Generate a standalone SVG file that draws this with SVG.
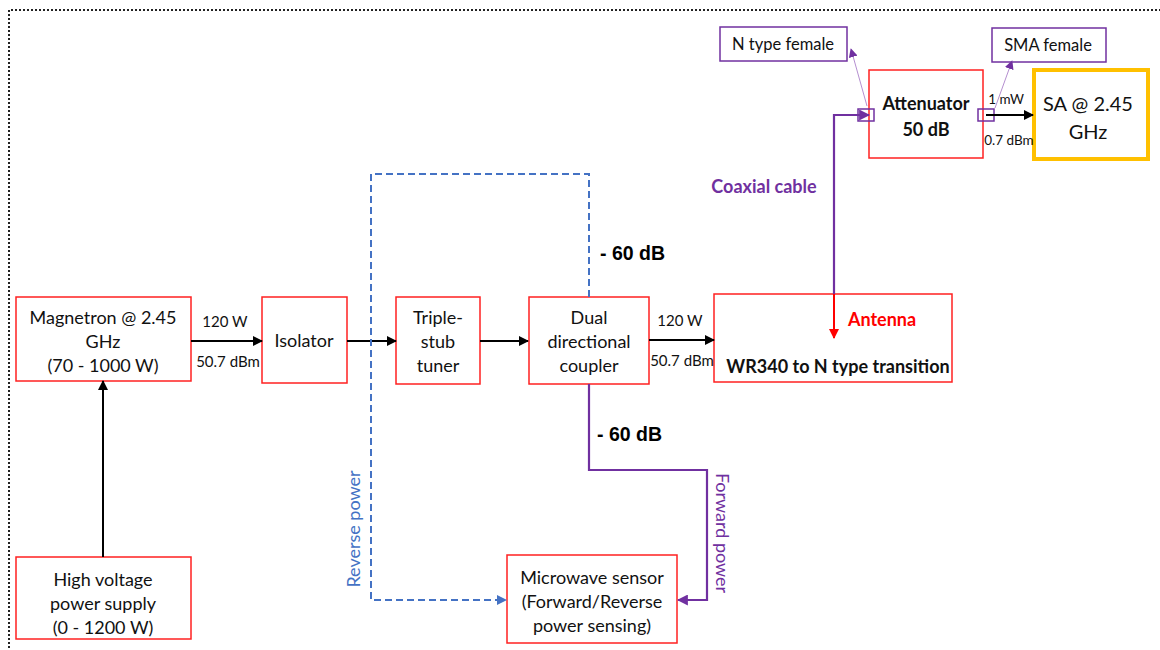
<svg xmlns="http://www.w3.org/2000/svg" width="1160" height="650" viewBox="0 0 1160 650">
<defs>
<style>
.box{fill:#fff;stroke:#ff2020;stroke-width:1.5}
.pbox{fill:#fff;stroke:#7030a0;stroke-width:1.5}
.t{font-family:Lato,"Open Sans",sans-serif;font-size:18px;fill:#111;text-anchor:middle}
.s{font-family:Lato,"Open Sans",sans-serif;font-size:15px;fill:#111;text-anchor:middle}
.xs{font-family:Lato,"Open Sans",sans-serif;font-size:13.5px;fill:#111;text-anchor:middle}
.b{font-family:"Liberation Sans",Arial,sans-serif;font-weight:bold;font-size:19.5px;fill:#000}
.blk{stroke:#000;stroke-width:2;fill:none}
</style>
<marker id="ab" viewBox="0 0 10 10" refX="9" refY="5" markerWidth="5" markerHeight="5" orient="auto"><path d="M0,0L10,5L0,10z" fill="#000"/></marker>
<marker id="ap" viewBox="0 0 10 10" refX="9" refY="5" markerWidth="5" markerHeight="5" orient="auto"><path d="M0,0L10,5L0,10z" fill="#7030a0"/></marker>
<marker id="apl" viewBox="0 0 10 10" refX="9" refY="5" markerWidth="9" markerHeight="9" orient="auto"><path d="M0,0L10,5L0,10z" fill="#7030a0"/></marker>
<marker id="abl" viewBox="0 0 10 10" refX="9" refY="5" markerWidth="5" markerHeight="5" orient="auto"><path d="M0,0L10,5L0,10z" fill="#4472c4"/></marker>
<marker id="ar" viewBox="0 0 10 10" refX="9" refY="5" markerWidth="5" markerHeight="5" orient="auto"><path d="M0,0L10,5L0,10z" fill="#ff0000"/></marker>
</defs>
<rect width="1160" height="650" fill="#fff"/>
<path d="M9,660V10H1170" fill="none" stroke="#222" stroke-width="2" stroke-dasharray="2,2"/>

<g id="magnetron"><rect class="box" x="16" y="297" width="175" height="84"/>
<text class="t" x="103" y="324">Magnetron @ 2.45</text><text class="t" x="103" y="348">GHz</text><text class="t" x="103" y="372">(70 - 1000 W)</text></g>
<g id="isolator"><rect class="box" x="262" y="297" width="85" height="86"/>
<text class="t" x="304" y="347">Isolator</text></g>
<g id="tuner"><rect class="box" x="396" y="297" width="84" height="87"/>
<text class="t" x="438" y="324">Triple-</text><text class="t" x="438" y="348">stub</text><text class="t" x="438" y="372">tuner</text></g>
<g id="coupler"><rect class="box" x="529" y="297" width="120" height="87"/>
<text class="t" x="589" y="324">Dual</text><text class="t" x="589" y="348">directional</text><text class="t" x="589" y="372">coupler</text></g>
<g id="transition"><rect class="box" x="714" y="294" width="238" height="88"/>
<text class="t" x="882" y="326" style="fill:#ff0000;font-weight:bold">Antenna</text>
<text class="t" x="838" y="373" style="font-weight:bold">WR340 to N type transition</text></g>
<g id="hv"><rect class="box" x="16" y="557" width="175" height="82"/>
<text class="t" x="103" y="586">High voltage</text><text class="t" x="103" y="610">power supply</text><text class="t" x="103" y="634">(0 - 1200 W)</text></g>
<g id="sensor"><rect class="box" x="507" y="555" width="170" height="88"/>
<text class="t" x="592" y="584">Microwave sensor</text><text class="t" x="592" y="608">(Forward/Reverse</text><text class="t" x="592" y="632">power sensing)</text></g>
<g id="attenuator"><rect class="box" x="869" y="70" width="114" height="88"/>
<text class="t" x="926" y="110" style="font-weight:bold">Attenuator</text><text class="t" x="926" y="136" style="font-weight:bold">50 dB</text>
<rect x="858" y="109" width="16" height="12" fill="none" stroke="#7030a0" stroke-width="1.5"/>
<rect x="978" y="109" width="16" height="12" fill="none" stroke="#7030a0" stroke-width="1.5"/></g>
<g id="sa"><rect x="1034" y="70" width="114" height="89" fill="#fff" stroke="#ffc000" stroke-width="4"/>
<text class="t" x="1088" y="111" style="font-size:20px">SA @ 2.45</text><text class="t" x="1088" y="139" style="font-size:20px">GHz</text></g>
<g id="ntype"><rect class="pbox" x="720" y="27" width="127" height="34"/>
<text class="s" x="783" y="50" style="font-size:16.5px">N type female</text></g>
<g id="sma"><rect class="pbox" x="992" y="28" width="114" height="34"/>
<text class="s" x="1048" y="51" style="font-size:16.5px">SMA female</text></g>

<g id="connectors">
<line class="blk" x1="191" y1="341" x2="262" y2="341" marker-end="url(#ab)"/>
<line class="blk" x1="347" y1="341" x2="396" y2="341" marker-end="url(#ab)"/>
<line class="blk" x1="480" y1="341" x2="528" y2="341" marker-end="url(#ab)"/>
<line class="blk" x1="649" y1="340" x2="714" y2="340" marker-end="url(#ab)"/>
<line class="blk" x1="103" y1="557" x2="103" y2="381" marker-end="url(#ab)"/>
<polyline points="589,297 589,174 371,174 371,600 506,600" fill="none" stroke="#4472c4" stroke-width="2" stroke-dasharray="7,4" marker-end="url(#abl)"/>
<polyline points="589,384 589,470 707,470 707,600 678,600" fill="none" stroke="#7030a0" stroke-width="2.2" marker-end="url(#ap)"/>
<polyline points="834,294 834,115 869,115" fill="none" stroke="#7030a0" stroke-width="2.2" marker-end="url(#ap)"/>
<line x1="834" y1="294" x2="834" y2="338" stroke="#ff0000" stroke-width="2" marker-end="url(#ar)"/>
<line class="blk" x1="986" y1="115" x2="1033" y2="115" marker-end="url(#ab)"/>
<line x1="867" y1="106" x2="851" y2="49" stroke="#b58fd0" stroke-width="1" marker-end="url(#apl)"/>
<line x1="995" y1="108" x2="1012" y2="61" stroke="#b58fd0" stroke-width="1" marker-end="url(#apl)"/>
</g>

<g id="labels">
<text class="s" x="225" y="327">120 W</text>
<text class="s" x="228" y="367">50.7 dBm</text>
<text class="s" x="680" y="326">120 W</text>
<text class="s" x="682" y="366">50.7 dBm</text>
<text class="b" x="600" y="260">- 60 dB</text>
<text class="b" x="597" y="441">- 60 dB</text>
<text class="t" x="355" y="529" transform="rotate(-90 355 529)" style="fill:#4472c4" dominant-baseline="middle">Reverse power</text>
<text class="t" x="721" y="533" transform="rotate(90 721 533)" style="fill:#7030a0" dominant-baseline="middle">Forward power</text>
<text class="t" x="764" y="193" style="fill:#7030a0;font-weight:bold">Coaxial cable</text>
<text class="xs" x="1006" y="104">1 mW</text>
<text class="xs" x="1009" y="145">0.7 dBm</text>
</g>
</svg>
